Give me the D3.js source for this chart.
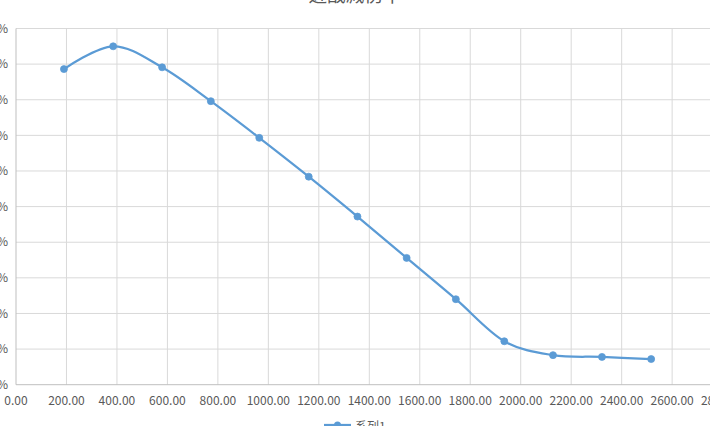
<!DOCTYPE html>
<html><head><meta charset="utf-8">
<script src="https://cdn.jsdelivr.net/npm/d3@7"></script>
<style>body{margin:0;background:#fff;overflow:hidden}svg{display:block}</style>
</head><body>
<svg id="c" width="710" height="426"></svg>
<script>
const title = "近战减伤率";
const seriesName = "系列1";
const xValues = [190, 385, 579, 772, 964, 1160, 1353, 1548, 1743, 1935, 2128, 2322, 2517];
const yValues = [0.886, 0.950, 0.891, 0.796, 0.693, 0.584, 0.472, 0.356, 0.240, 0.122, 0.083, 0.078, 0.072];
const xTicks = [0, 200, 400, 600, 800, 1000, 1200, 1400, 1600, 1800, 2000, 2200, 2400, 2600, 2800];
const yTicks = [0, 0.1, 0.2, 0.3, 0.4, 0.5, 0.6, 0.7, 0.8, 0.9, 1.0];

const svg = d3.select("#c");
const font = "'Noto Sans CJK SC','Liberation Sans',sans-serif";
const x = d3.scaleLinear().domain([0, 2800]).range([16, 722.6]);
const y = d3.scaleLinear().domain([0, 1]).range([384.7, 28.5]);

// grid
svg.append("g").selectAll("line").data(yTicks.slice(1)).join("line")
  .attr("x1", x(0)).attr("x2", 722).attr("y1", d => y(d)).attr("y2", d => y(d))
  .attr("stroke", "#d9d9d9").attr("stroke-width", 1);
svg.append("g").selectAll("line").data(xTicks.slice(1)).join("line")
  .attr("y1", y(0)).attr("y2", y(1)).attr("x1", d => x(d)).attr("x2", d => x(d))
  .attr("stroke", "#d9d9d9").attr("stroke-width", 1);
// axes lines
svg.append("line").attr("x1", x(0)).attr("x2", x(0)).attr("y1", y(0)).attr("y2", y(1)).attr("stroke", "#bfbfbf");
svg.append("line").attr("x1", x(0)).attr("x2", 722).attr("y1", y(0)).attr("y2", y(0)).attr("stroke", "#bfbfbf");

// tick labels
svg.append("g").selectAll("text").data(xTicks).join("text")
  .attr("x", d => x(d)).attr("y", 405).attr("text-anchor", "middle")
  .attr("font-family", font).attr("font-size", 12).attr("fill", "#595959")
  .text(d => d.toFixed(2));
svg.append("g").selectAll("text").data(yTicks).join("text")
  .attr("x", 8).attr("y", d => y(d) + 1).attr("text-anchor", "end")
  .attr("dominant-baseline", "middle")
  .attr("font-family", font).attr("font-size", 12).attr("fill", "#595959")
  .text(d => Math.round(d * 100) + "%");

// title
svg.append("text").attr("x", 355).attr("y", 2).attr("text-anchor", "middle")
  .attr("font-family", font).attr("font-size", 18.6).attr("fill", "#595959").text(title);

// line
const pts = xValues.map((v, i) => [v, yValues[i]]);
const line = d3.line().x(d => x(d[0])).y(d => y(d[1])).curve(d3.curveCardinal.tension(0));
svg.append("path").attr("d", line(pts)).attr("fill", "none")
  .attr("stroke", "#5b9bd5").attr("stroke-width", 2.25).attr("stroke-linecap", "round");
svg.append("g").selectAll("circle").data(pts).join("circle")
  .attr("cx", d => x(d[0])).attr("cy", d => y(d[1])).attr("r", 3.5)
  .attr("fill", "#5b9bd5").attr("stroke", "#5b9bd5").attr("stroke-width", 0.75);

// legend
svg.append("line").attr("x1", 324).attr("x2", 351).attr("y1", 425).attr("y2", 425)
  .attr("stroke", "#5b9bd5").attr("stroke-width", 2.25);
svg.append("circle").attr("cx", 337.5).attr("cy", 425).attr("r", 3.5).attr("fill", "#5b9bd5");
svg.append("text").attr("x", 355).attr("y", 431).attr("font-family", font)
  .attr("font-size", 12).attr("fill", "#595959").text(seriesName);
</script>
</body></html>
